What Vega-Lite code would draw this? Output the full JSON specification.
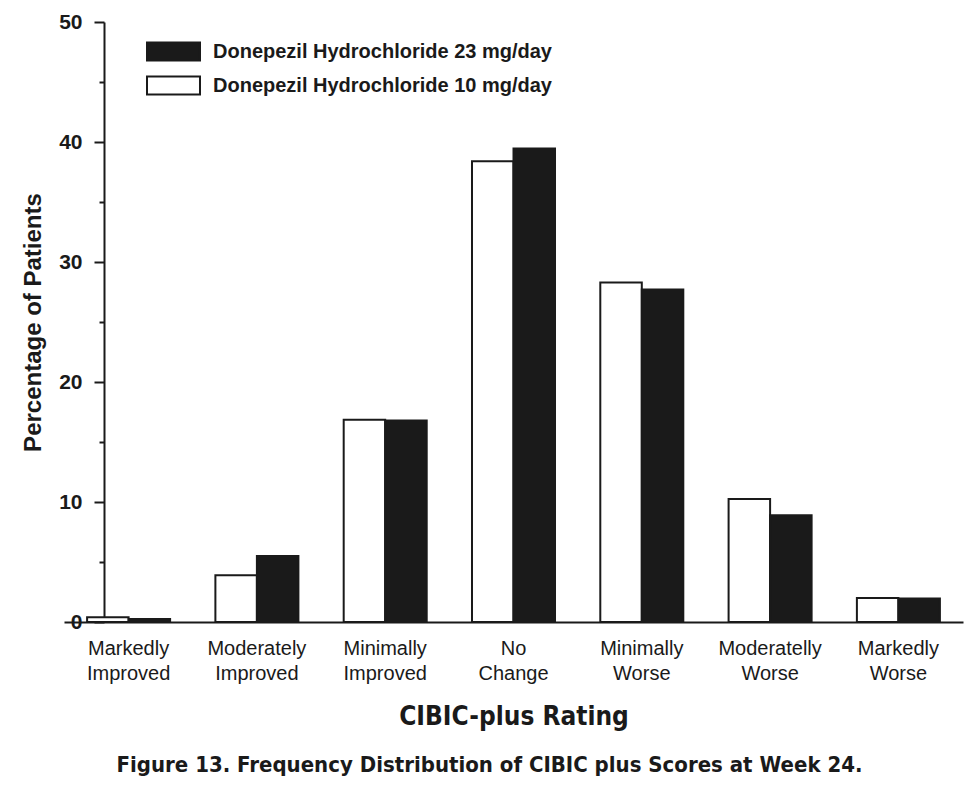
{
  "$schema": "https://vega.github.io/schema/vega-lite/v6.json",
  "width": 899,
  "height": 600,
  "padding": {"left": 21, "top": 11, "right": 5, "bottom": 5},
  "background": "white",
  "title": {
    "text": "Figure 13. Frequency Distribution of CIBIC plus Scores at Week 24.",
    "orient": "bottom",
    "anchor": "middle",
    "dx": -24,
    "offset": 26,
    "font": "'Liberation Sans Narrow', 'DejaVu Sans Condensed', sans-serif",
    "fontSize": 22,
    "fontWeight": "bold",
    "color": "#1a1a1a"
  },
  "config": {
    "view": {"stroke": null},
    "axis": {"grid": false, "domainColor": "#1a1a1a", "tickColor": "#1a1a1a", "labelColor": "#1a1a1a", "titleColor": "#1a1a1a", "domainWidth": 2, "tickWidth": 2}
  },
  "data": {
    "values": [
      {"rating": "Markedly Improved", "dose": "Donepezil Hydrochloride 10 mg/day", "pct": 0.4},
      {"rating": "Markedly Improved", "dose": "Donepezil Hydrochloride 23 mg/day", "pct": 0.25},
      {"rating": "Moderately Improved", "dose": "Donepezil Hydrochloride 10 mg/day", "pct": 3.9},
      {"rating": "Moderately Improved", "dose": "Donepezil Hydrochloride 23 mg/day", "pct": 5.5},
      {"rating": "Minimally Improved", "dose": "Donepezil Hydrochloride 10 mg/day", "pct": 16.85},
      {"rating": "Minimally Improved", "dose": "Donepezil Hydrochloride 23 mg/day", "pct": 16.8},
      {"rating": "No Change", "dose": "Donepezil Hydrochloride 10 mg/day", "pct": 38.4},
      {"rating": "No Change", "dose": "Donepezil Hydrochloride 23 mg/day", "pct": 39.45},
      {"rating": "Minimally Worse", "dose": "Donepezil Hydrochloride 10 mg/day", "pct": 28.3},
      {"rating": "Minimally Worse", "dose": "Donepezil Hydrochloride 23 mg/day", "pct": 27.7},
      {"rating": "Moderatelly Worse", "dose": "Donepezil Hydrochloride 10 mg/day", "pct": 10.25},
      {"rating": "Moderatelly Worse", "dose": "Donepezil Hydrochloride 23 mg/day", "pct": 8.9},
      {"rating": "Markedly Worse", "dose": "Donepezil Hydrochloride 10 mg/day", "pct": 2.0},
      {"rating": "Markedly Worse", "dose": "Donepezil Hydrochloride 23 mg/day", "pct": 1.95}
    ]
  },
  "mark": {"type": "bar", "stroke": "#1a1a1a", "strokeWidth": 2},
  "encoding": {
    "x": {
      "field": "rating",
      "type": "nominal",
      "sort": ["Markedly Improved", "Moderately Improved", "Minimally Improved", "No Change", "Minimally Worse", "Moderatelly Worse", "Markedly Worse"],
      "scale": {"paddingInner": 0.353, "paddingOuter": 0.18},
      "axis": {
        "title": "CIBIC-plus Rating",
        "titleFont": "'DejaVu Sans Condensed', 'Liberation Sans', sans-serif",
        "titleFontSize": 26,
        "titleFontWeight": "bold",
        "titlePadding": 20,
        "labelAngle": 0,
        "labelExpr": "split(datum.label, ' ')",
        "labelFont": "Liberation Sans, Arial, sans-serif",
        "labelFontSize": 20,
        "labelLineHeight": 25,
        "labelPadding": 16,
        "ticks": false
      }
    },
    "xOffset": {
      "field": "dose",
      "type": "nominal",
      "scale": {"domain": ["Donepezil Hydrochloride 10 mg/day", "Donepezil Hydrochloride 23 mg/day"], "paddingInner": 0, "paddingOuter": 0}
    },
    "y": {
      "field": "pct",
      "type": "quantitative",
      "scale": {"domain": [0, 50], "nice": false},
      "axis": {
        "title": "Percentage of Patients",
        "titleFont": "Liberation Sans, Arial, sans-serif",
        "titleFontSize": 24,
        "titleFontWeight": "bold",
        "titlePadding": 13,
        "offset": -40,
        "values": [0, 5, 10, 15, 20, 25, 30, 35, 40, 45, 50],
        "labelExpr": "datum.value % 10 === 0 ? datum.label : ''",
        "labelFont": "Liberation Sans, Arial, sans-serif",
        "labelFontSize": 21,
        "labelFontWeight": "bold",
        "labelPadding": 12,
        "tickSize": {"condition": {"test": "datum.value % 10 === 0", "value": 10}, "value": 5}
      }
    },
    "fill": {
      "field": "dose",
      "type": "nominal",
      "scale": {"domain": ["Donepezil Hydrochloride 23 mg/day", "Donepezil Hydrochloride 10 mg/day"], "range": ["#1a1a1a", "#ffffff"]},
      "legend": {
        "title": null,
        "orient": "none",
        "legendX": 95,
        "legendY": 15,
        "padding": 0,
        "symbolType": "M-2,-0.68H2V0.68H-2Z",
        "symbolSize": 702,
        "symbolStrokeColor": "#1a1a1a",
        "symbolStrokeWidth": 2,
        "symbolOpacity": 1,
        "rowPadding": 6,
        "labelOffset": 25,
        "labelFont": "Liberation Sans, Arial, sans-serif",
        "labelFontSize": 20,
        "labelFontWeight": "bold",
        "labelColor": "#1a1a1a",
        "labelLimit": 500
      }
    }
  }
}
